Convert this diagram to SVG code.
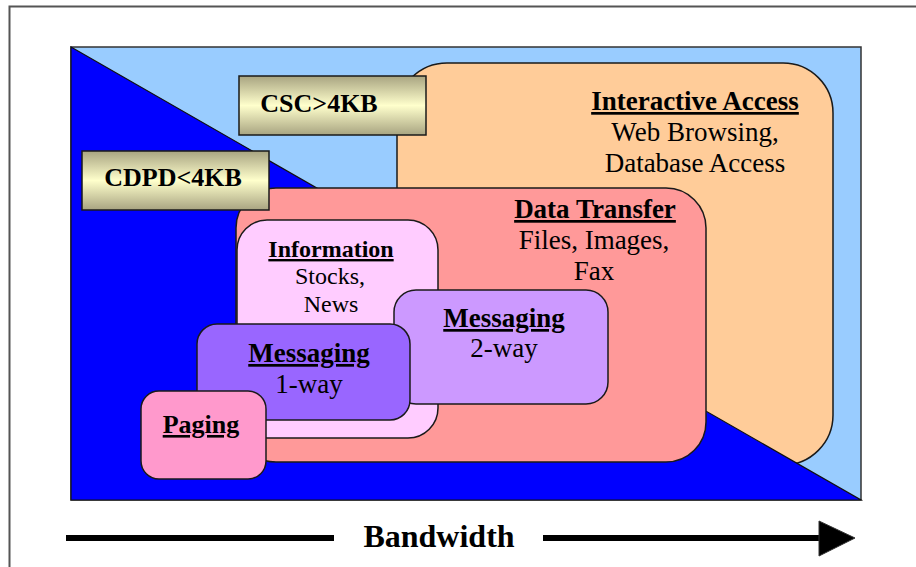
<svg xmlns="http://www.w3.org/2000/svg" width="916" height="567" viewBox="0 0 916 567">
<defs>
<linearGradient id="khaki" x1="0" y1="0" x2="0" y2="1">
<stop offset="0" stop-color="#A8A481"/>
<stop offset="0.5" stop-color="#FFFFCC"/>
<stop offset="1" stop-color="#A8A481"/>
</linearGradient>
<style>
.box{stroke:#1a1a1a;stroke-width:1.5}
.t{font-family:"Liberation Serif","Times New Roman",serif;text-anchor:middle;fill:#000}
.b{font-weight:bold}
.u{text-decoration:underline}
.s26{font-size:26px}
.s27{font-size:27px}
.s24{font-size:24px}
</style>
</defs>
<rect x="0" y="0" width="916" height="567" fill="#fff"/>
<rect x="9.5" y="6.5" width="920" height="580" fill="none" stroke="#555" stroke-width="2"/>
<g id="background">
<rect x="71" y="47" width="790" height="453" fill="#99CCFF" stroke="#333" stroke-width="1.5"/>
</g>
<g id="interactive-access">
<rect class="box" x="397" y="63" width="436" height="402" rx="50" fill="#FFCC99"/>
<text class="t b u s27" x="695" y="110">Interactive Access</text>
<text class="t s27" x="695" y="141">Web Browsing,</text>
<text class="t s27" x="695" y="172">Database Access</text>
</g>
<g id="cdpd-region">
<polygon points="71,47 861,500 71,500" fill="#0000FF" stroke="#111" stroke-width="1.2"/>
</g>
<g id="csc">
<rect class="box" x="239" y="76" width="187" height="59" fill="url(#khaki)"/>
<text class="t b s26" x="319" y="112">CSC&gt;4KB</text>
</g>
<g id="data-transfer">
<rect class="box" x="236" y="188" width="470" height="274" rx="40" fill="#FF9999"/>
<text class="t b u s27" x="595" y="218">Data Transfer</text>
<text class="t s27" x="594" y="249">Files, Images,</text>
<text class="t s27" x="594" y="280">Fax</text>
</g>
<g id="cdpd">
<rect class="box" x="82" y="151" width="187" height="59" fill="url(#khaki)"/>
<text class="t b s26" x="173" y="186">CDPD&lt;4KB</text>
</g>
<g id="information">
<rect class="box" x="237" y="220" width="201" height="218" rx="30" fill="#FFCCFF"/>
<text class="t b u s24" x="331" y="257">Information</text>
<text class="t s24" x="330" y="284">Stocks,</text>
<text class="t s24" x="331" y="312">News</text>
</g>
<g id="messaging-2way">
<rect class="box" x="394" y="290" width="214" height="114" rx="22" fill="#CC99FF"/>
<text class="t b u s27" x="504" y="327">Messaging</text>
<text class="t s27" x="504" y="357">2-way</text>
</g>
<g id="messaging-1way">
<rect class="box" x="197" y="324" width="213" height="96" rx="20" fill="#9966FF"/>
<text class="t b u s27" x="309" y="362">Messaging</text>
<text class="t s27" x="309" y="393">1-way</text>
</g>
<g id="paging">
<rect class="box" x="141" y="391" width="125" height="88" rx="18" fill="#FF99CC"/>
<text class="t b u s26" x="201" y="433">Paging</text>
</g>
<g id="connectors">
<line x1="66" y1="538" x2="334" y2="538" stroke="#000" stroke-width="6"/>
<line x1="543" y1="538" x2="822" y2="538" stroke="#000" stroke-width="6"/>
<polygon points="819,521 855,538 819,556" fill="#000" stroke="#333" stroke-width="1"/>
</g>
<g id="bandwidth-label">
<text class="t b" x="439" y="547" font-size="32">Bandwidth</text>
</g>
</svg>
